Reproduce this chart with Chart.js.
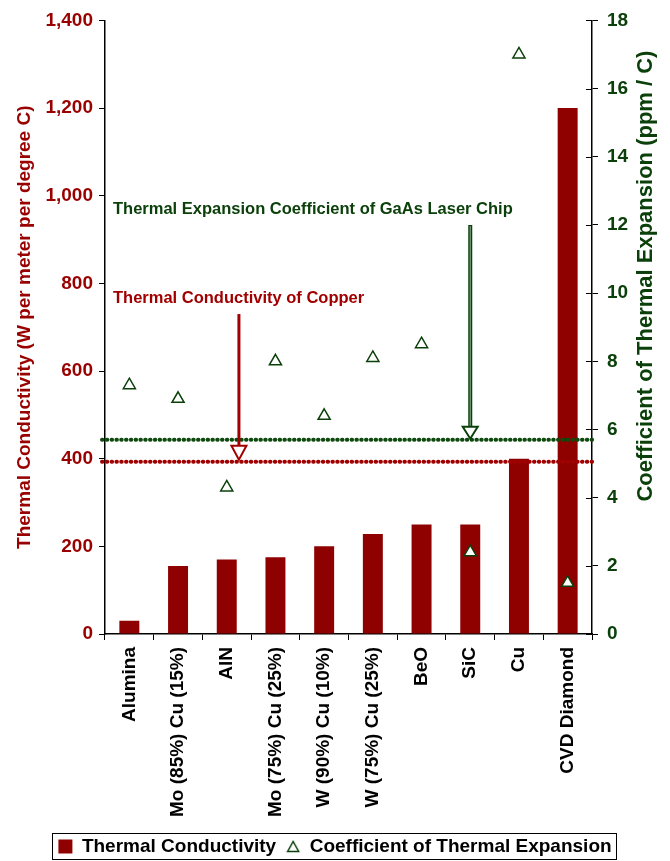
<!DOCTYPE html>
<html>
<head>
<meta charset="utf-8">
<script src="https://cdn.jsdelivr.net/npm/chart.js@4/dist/chart.umd.min.js"></script>
<style>
  html, body { margin: 0; padding: 0; background: #ffffff; }
  #wrap { width: 670px; height: 861px; }
</style>
</head>
<body>
<div id="wrap"><canvas id="chart" width="670" height="861"></canvas></div>
<script>
// Heat-spreader materials compared by conductivity and expansion
const categories = ['Alumina', 'Mo (85%) Cu (15%)', 'AlN', 'Mo (75%) Cu (25%)', 'W (90%) Cu (10%)',
                    'W (75%) Cu (25%)', 'BeO', 'SiC', 'Cu', 'CVD Diamond'];
const conductivity = [30, 155, 170, 175, 200, 228, 250, 250, 400, 1200];   // W/m·°C
const expansion = [7.3, 6.9, 4.3, 8.0, 6.4, 8.1, 8.5, 2.4, 17.0, 1.5];       // ppm/°C
const conductivityTicks = [0, 200, 400, 600, 800, 1000, 1200, 1400];
const expansionTicks = [0, 2, 4, 6, 8, 10, 12, 14, 16, 18];

// Reference levels
const copperConductivity = 393;   // W/m·°C
const gaasExpansion = 5.7;        // ppm/°C

const RED = '#8f0000';
const RED_TEXT = '#990000';
const GREEN = '#0b400b';
const FONT = '"Liberation Sans", Arial, sans-serif';
const RIGHT_TITLE = 'Coefficient of Thermal Expansion (ppm / C)';

// hollow triangle used as the legend marker
const legendTriangle = (() => {
  const c = document.createElement('canvas');
  c.width = 14; c.height = 13;
  const g = c.getContext('2d');
  g.strokeStyle = GREEN; g.lineWidth = 1.5; g.fillStyle = '#fff';
  g.beginPath(); g.moveTo(7, 1.5); g.lineTo(12.5, 11.5); g.lineTo(1.5, 11.5); g.closePath();
  g.fill(); g.stroke();
  return c;
})();

function arrow(ctx, x, yTop, yTip, color, shaftW, headW, headH, twoTone) {
  ctx.save();
  ctx.lineCap = 'butt';
  ctx.strokeStyle = color;
  ctx.lineWidth = shaftW;
  ctx.beginPath(); ctx.moveTo(x, yTop); ctx.lineTo(x, yTip - headH + 1); ctx.stroke();
  if (twoTone) {
    ctx.strokeStyle = '#7f9f7f'; ctx.lineWidth = 1.2;
    ctx.beginPath(); ctx.moveTo(x, yTop + 1); ctx.lineTo(x, yTip - headH); ctx.stroke();
  }
  ctx.fillStyle = '#ffffff';
  ctx.strokeStyle = color;
  ctx.lineWidth = 2;
  ctx.lineJoin = 'miter';
  ctx.beginPath();
  ctx.moveTo(x - headW / 2, yTip - headH);
  ctx.lineTo(x + headW / 2, yTip - headH);
  ctx.lineTo(x, yTip);
  ctx.closePath();
  ctx.fill(); ctx.stroke();
  ctx.restore();
}

function dottedLine(ctx, area, y, color) {
  ctx.save();
  ctx.strokeStyle = color;
  ctx.lineWidth = 4;
  ctx.lineCap = 'round';
  ctx.setLineDash([0.5, 4.3]);
  ctx.beginPath(); ctx.moveTo(area.left - 3, y); ctx.lineTo(area.right + 4, y); ctx.stroke();
  ctx.restore();
}

const referencePlugin = {
  id: 'referenceLevels',
  afterLayout(chart) {
    // nudge the legend row a little lower
    if (chart.legend) { chart.legend.top += 5; chart.legend.bottom += 5; }
  },
  afterDatasetDraw(chart, args) {
    if (args.index !== 0) return;
    const { ctx, chartArea, scales } = chart;
    dottedLine(ctx, chartArea, scales.y2.getPixelForValue(gaasExpansion), '#0d4a0d');
    dottedLine(ctx, chartArea, scales.y.getPixelForValue(copperConductivity), '#a00000');
  },
  afterDatasetsDraw(chart) {
    const { ctx, chartArea, scales } = chart;
    const x = scales.x, y = scales.y, y2 = scales.y2;
    // copper callout
    arrow(ctx, x.getPixelForValue(2.25), y.getPixelForValue(730), y.getPixelForValue(copperConductivity) - 2,
          '#a00000', 3, 15, 14, false);
    // GaAs callout
    arrow(ctx, x.getPixelForValue(7), y2.getPixelForValue(12.0), y2.getPixelForValue(gaasExpansion) - 1,
          GREEN, 4, 15, 12, true);
    ctx.save();
    ctx.font = 'bold 16.5px ' + FONT;
    ctx.textBaseline = 'middle';
    ctx.textAlign = 'left';
    ctx.fillStyle = '#a00000';
    ctx.fillText('Thermal Conductivity of Copper', chartArea.left + 8, y.getPixelForValue(765));
    ctx.fillStyle = GREEN;
    ctx.fillText('Thermal Expansion Coefficient of GaAs Laser Chip', chartArea.left + 8, y2.getPixelForValue(12.45));
    ctx.restore();
  },
  afterDraw(chart) {
    const ctx = chart.ctx;
    const area = chart.chartArea;
    const y2 = chart.scales.y2;
    // inner half of the right-axis tick marks
    ctx.save();
    ctx.strokeStyle = '#000';
    ctx.lineWidth = 1;
    expansionTicks.forEach(v => {
      const py = Math.round(y2.getPixelForValue(v)) + 0.5;
      ctx.beginPath(); ctx.moveTo(area.right - 6, py); ctx.lineTo(area.right, py); ctx.stroke();
    });
    ctx.restore();
    // right-axis title, reading bottom to top
    ctx.save();
    ctx.translate(y2.right - 24, y2.getPixelForValue(10.5));
    ctx.rotate(-Math.PI / 2);
    ctx.font = 'bold 22px ' + FONT;
    ctx.fillStyle = GREEN;
    ctx.textAlign = 'center';
    ctx.textBaseline = 'middle';
    ctx.fillText(RIGHT_TITLE, 0, 0);
    ctx.restore();
    // frame around the legend
    const boxes = chart.legend && chart.legend.legendHitBoxes;
    if (!boxes || !boxes.length) return;
    let l = Infinity, r = -Infinity, t = Infinity, b = -Infinity;
    boxes.forEach(h => { l = Math.min(l, h.left); r = Math.max(r, h.left + h.width); t = Math.min(t, h.top); b = Math.max(b, h.top + h.height); });
    ctx.save();
    ctx.strokeStyle = '#000';
    ctx.lineWidth = 1;
    ctx.strokeRect(Math.round(l - 6) + 0.5, Math.round(t - 4) + 0.5, Math.round(r - l + 11), Math.round(b - t + 7));
    ctx.restore();
  }
};

new Chart(document.getElementById('chart'), {
  type: 'bar',
  data: {
    labels: categories,
    datasets: [
      {
        type: 'bar',
        label: 'Thermal Conductivity',
        data: conductivity,
        backgroundColor: RED,
        borderWidth: 0,
        yAxisID: 'y',
        barPercentage: 0.41,
        categoryPercentage: 1.0,
        order: 2
      },
      {
        type: 'line',
        label: 'Coefficient of Thermal Expansion',
        data: expansion,
        showLine: false,
        yAxisID: 'y2',
        pointStyle: 'triangle',
        pointRadius: 7,
        pointHoverRadius: 7,
        pointBorderWidth: 1.5,
        pointBackgroundColor: '#ffffff',
        pointBorderColor: GREEN,
        backgroundColor: '#ffffff',
        borderColor: GREEN,
        order: 1
      }
    ]
  },
  options: {
    responsive: false,
    animation: false,
    layout: { padding: { top: 18, left: 0, right: 0, bottom: 0 } },
    plugins: {
      tooltip: { enabled: false },
      legend: {
        position: 'bottom',
        labels: {
          usePointStyle: true,
          boxHeight: 14,
          boxWidth: 14,
          padding: 10,
          color: '#000',
          font: { family: FONT, size: 19, weight: 'bold' },
          sort: (a, b) => a.datasetIndex - b.datasetIndex,
          generateLabels(chart) {
            const items = Chart.defaults.plugins.legend.labels.generateLabels(chart);
            items.forEach(it => {
              if (it.datasetIndex === 0) {
                it.pointStyle = 'rect'; it.fillStyle = RED; it.strokeStyle = RED; it.lineWidth = 0;
              } else {
                it.pointStyle = legendTriangle;
              }
            });
            return items;
          }
        }
      }
    },
    scales: {
      x: {
        offset: true,
        grid: { display: true, drawOnChartArea: false, drawTicks: true, tickLength: 6, color: '#000', offset: true },
        border: { display: true, color: '#000', width: 1.5 },
        ticks: {
          autoSkip: false, minRotation: 90, maxRotation: 90, padding: 7,
          color: '#000', font: { family: FONT, size: 19, weight: 'bold' }
        },
        afterFit(s) { s.height = 188; }
      },
      y: {
        position: 'left',
        min: 0, max: 1400,
        afterBuildTicks(s) { s.ticks = conductivityTicks.map(v => ({ value: v })); },
        grid: { display: true, drawOnChartArea: false, drawTicks: true, tickLength: 6, color: '#000' },
        border: { display: true, color: '#000', width: 1.5 },
        ticks: {
          padding: 6, color: RED_TEXT,
          font: { family: FONT, size: 19, weight: 'bold' },
          callback: v => v.toLocaleString('en-US')
        },
        title: {
          display: true, text: 'Thermal Conductivity (W per meter per degree C)',
          color: RED_TEXT, font: { family: FONT, size: 19, weight: 'bold' },
          padding: { top: 13, bottom: 0 }
        },
        afterFit(s) { s.width = 105; }
      },
      y2: {
        position: 'right',
        min: 0, max: 18,
        afterBuildTicks(s) { s.ticks = expansionTicks.map(v => ({ value: v })); },
        grid: { display: true, drawOnChartArea: false, drawTicks: true, tickLength: 6, color: '#000' },
        border: { display: true, color: '#000', width: 1.5 },
        ticks: {
          padding: 9, color: GREEN,
          font: { family: FONT, size: 19, weight: 'bold' }
        },
        title: { display: false },
        afterFit(s) { s.width = 78; }
      }
    }
  },
  plugins: [referencePlugin]
});
</script>
</body>
</html>
